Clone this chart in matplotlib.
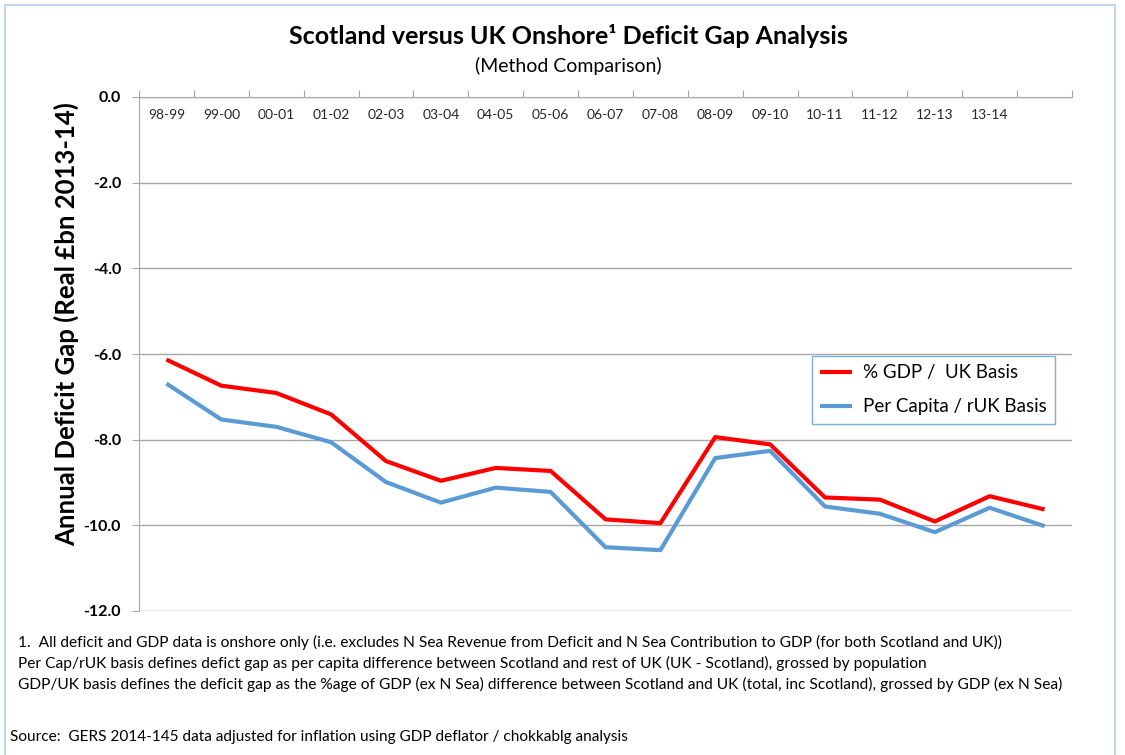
import matplotlib
matplotlib.use("Agg")
import matplotlib.pyplot as plt
import matplotlib.transforms as mtransforms
from matplotlib.patches import Rectangle

plt.rcParams["font.family"] = ["Lato", "DejaVu Sans"]

# financial years shown on the category axis (last category has no label)
years = ["98-99", "99-00", "00-01", "01-02", "02-03", "03-04", "04-05", "05-06",
         "06-07", "07-08", "08-09", "09-10", "10-11", "11-12", "12-13", "13-14", ""]

# deficit gap, real £bn 2013-14
gdp_uk = [-6.13, -6.74, -6.91, -7.41, -8.50, -8.96, -8.66, -8.73, -9.86,
          -9.95, -7.94, -8.11, -9.35, -9.40, -9.91, -9.32, -9.63]
percap_ruk = [-6.69, -7.53, -7.70, -8.06, -8.99, -9.47, -9.12, -9.22, -10.51,
              -10.58, -8.43, -8.26, -9.56, -9.73, -10.16, -9.59, -10.02]

yticks = [0, -2, -4, -6, -8, -10, -12]

footnotes = [
    "1.  All deficit and GDP data is onshore only (i.e. excludes N Sea Revenue from Deficit and N Sea Contribution to GDP (for both Scotland and UK))",
    "Per Cap/rUK basis defines defict gap as per capita difference between Scotland and rest of UK (UK - Scotland), grossed by population",
    "GDP/UK basis defines the deficit gap as the %age of GDP (ex N Sea) difference between Scotland and UK (total, inc Scotland), grossed by GDP (ex N Sea)",
]
source = "Source:  GERS 2014-145 data adjusted for inflation using GDP deflator / chokkablg analysis"

grid_col = "#a6a6a6"

fig = plt.figure(figsize=(11.25, 7.55), dpi=100)
ax = fig.add_axes([139 / 1125, 1 - 611 / 755, (1072 - 139) / 1125, (611 - 97) / 755])

x = list(range(len(years)))
ax.plot(x, gdp_uk, color="#ff0000", lw=3, label="% GDP /  UK Basis", solid_capstyle="butt")
ax.plot(x, percap_ruk, color="#5b9bd5", lw=3, label="Per Capita / rUK Basis", solid_capstyle="butt")

ax.set_xlim(-0.5, len(years) - 0.5)
ax.set_ylim(-12, 0)

# y axis
ax.set_yticks(yticks)
ax.set_yticklabels([f"{v:.1f}" for v in yticks], fontweight="bold", fontsize=11.5)
ax.tick_params(axis="y", direction="out", length=5, color=grid_col, pad=8)
ax.yaxis.grid(True, color=grid_col, lw=1)
ax.set_axisbelow(True)
ax.set_ylabel("Annual Deficit Gap (Real £bn 2013-14)", fontsize=18.5, fontweight="bold")
ax.yaxis.set_label_coords(-0.064, 0.558)

# category axis sits on the top (y = 0) with boundary ticks
ax.xaxis.set_ticks_position("top")
ax.set_xticks([i - 0.5 for i in range(len(years) + 1)])
ax.set_xticklabels([])
ax.tick_params(axis="x", direction="out", length=5, color=grid_col)
trans = mtransforms.blended_transform_factory(ax.transData, ax.transAxes)
for i, lab in enumerate(years):
    ax.text(i, 0.965, lab, transform=trans, ha="center", va="center", fontsize=10, color="#262626")

for side in ["right", "bottom"]:
    ax.spines[side].set_visible(False)
ax.spines["left"].set_color(grid_col)
ax.spines["top"].set_color(grid_col)

leg = ax.legend(loc="upper left", bbox_to_anchor=(0.721, 0.496), fontsize=13.5,
                frameon=True, fancybox=False, handlelength=1.7, handletextpad=0.6,
                borderpad=0.45, labelspacing=0.9, borderaxespad=0)
leg.get_frame().set_edgecolor("#5b9bd5")
leg.get_frame().set_linewidth(1)

fig.text(0.505, 1 - 36 / 755, "Scotland versus UK Onshore¹ Deficit Gap Analysis",
         ha="center", va="center", fontsize=18, fontweight="bold")
fig.text(0.505, 1 - 66 / 755, "(Method Comparison)", ha="center", va="center", fontsize=14)

for k, line in enumerate(footnotes):
    fig.text(18 / 1125, 1 - (642 + 21 * k) / 755, line, ha="left", va="center", fontsize=11.15)
fig.text(10 / 1125, 1 - 737 / 755, source, ha="left", va="center", fontsize=11.1)

# light blue frame round the whole chart
fig.patches.append(Rectangle((5 / 1125, -0.1), 1110 / 1125, 1.1 - 5 / 755, transform=fig.transFigure,
                             fill=False, edgecolor="#bdd7ee", lw=1.5))

fig.savefig("out.png", dpi=100)
